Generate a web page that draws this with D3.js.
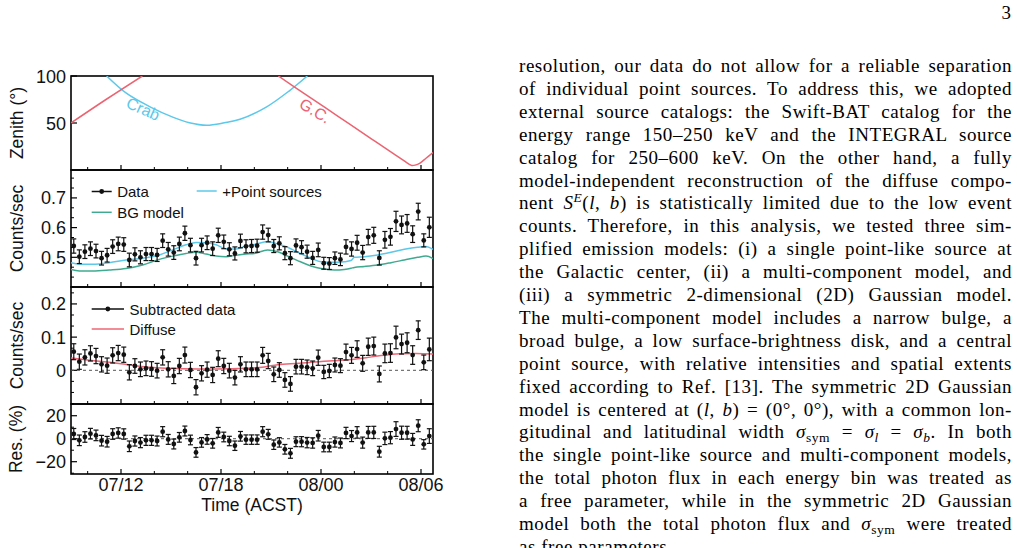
<!DOCTYPE html>
<html>
<head>
<meta charset="utf-8">
<script src="https://cdn.jsdelivr.net/npm/d3@7"></script>
<style>
  body { margin: 0; background: #fff; }
  svg text { font-family: "Liberation Sans", Arial, sans-serif; fill: #111; }
  svg text.body { font-family: "Liberation Serif", "Times New Roman", serif; fill: #000; }
</style>
</head>
<body>
<svg id="fig" width="1017" height="548"></svg>
<script>
// hours since 07/00 (ACST); 20-minute bins
var binStart = 9, binWidth = 1/3, nBins = 65;
var binTimes = d3.range(nBins).map(function(i){ return binStart + binWidth*(i + 0.5); });

var timeTicks = [12, 18, 24, 30];
var timeLabels = ["07/12", "07/18", "08/00", "08/06"];

// zenith angles (deg)
var crabTimes = [11.14, 12.34, 13.74, 15.14, 16.1, 17.14, 18.2, 19.14, 20.74, 22.14, 23.18];
var crabZen   = [100, 81.4, 67.2, 56, 50.3, 47.6, 50.2, 53.9, 67.2, 84.8, 100];
var gcTimes1 = [9, 11.1, 13.28];
var gcZen1   = [50, 75, 100];
var gcTimes2 = [21.44, 23, 25, 27, 28.5, 29.04, 29.3, 29.44, 29.65, 29.94, 30.3, 30.72];
var gcZen2   = [100, 81.3, 57.4, 33.5, 15.6, 9.1, 6.0, 4.8, 5.2, 7.4, 12.5, 18.6];

// count rate data (counts/sec)
var dataRate = [0.538,0.502,0.519,0.529,0.521,0.497,0.507,0.536,0.545,0.543,
                0.491,0.510,0.500,0.511,0.511,0.508,0.556,0.527,0.516,0.545,
                0.581,0.541,0.497,0.541,0.549,0.529,0.574,0.552,0.527,0.513,
                0.555,0.537,0.538,0.539,0.585,0.575,0.538,0.547,0.514,0.497,
                0.540,0.534,0.519,0.498,0.525,0.480,0.479,0.497,0.493,0.535,
                0.528,0.549,0.516,0.568,0.574,0.498,0.559,0.569,0.621,0.609,
                0.614,0.578,0.654,0.557,0.601];
var dataErr  = [0.024,0.023,0.023,0.023,0.023,0.023,0.023,0.023,0.023,0.023,
                0.023,0.022,0.022,0.022,0.022,0.022,0.023,0.023,0.023,0.023,
                0.024,0.023,0.023,0.023,0.023,0.023,0.024,0.023,0.022,0.022,
                0.023,0.022,0.022,0.022,0.024,0.023,0.022,0.022,0.022,0.022,
                0.022,0.022,0.022,0.022,0.023,0.020,0.020,0.021,0.021,0.024,
                0.024,0.025,0.024,0.026,0.027,0.024,0.028,0.028,0.034,0.030,
                0.030,0.028,0.028,0.022,0.034];

// background model and +point sources
var modelTimes = [9, 9.5, 10.3, 11.3, 12.3, 13.3, 14.3, 15.1, 15.9, 16.5, 17.1, 17.7, 18.3, 18.9, 19.5,
                  20.0, 20.8, 21.4, 22.0, 22.6, 23.4, 24.0, 24.8, 25.4, 25.8, 26.0, 26.6, 27.4, 28.2,
                  29.0, 29.8, 30.3, 30.72];
var bgModel = [0.459,0.454,0.454,0.457,0.462,0.474,0.493,0.504,0.513,0.517,0.511,0.504,0.502,0.507,0.511,
               0.513,0.525,0.519,0.504,0.489,0.471,0.462,0.457,0.459,0.463,0.466,0.469,0.474,0.482,
               0.491,0.500,0.504,0.496];
var psModel = [0.482,0.477,0.477,0.482,0.491,0.497,0.508,0.525,0.542,0.550,0.549,0.542,0.529,0.528,0.538,
               0.543,0.553,0.545,0.534,0.517,0.497,0.485,0.483,0.485,0.489,0.500,0.502,0.508,0.517,
               0.527,0.534,0.536,0.527];

// subtracted data and diffuse model
var subRate = [0.056,0.026,0.039,0.051,0.043,0.018,0.014,0.045,0.052,0.047,
               -0.006,0.013,0.003,0.006,0.004,-0.001,0.039,0.003,-0.017,0.013,
               0.046,0.001,-0.051,-0.009,0.002,-0.014,0.035,0.013,-0.001,-0.022,
               0.018,0.003,0.003,0.003,0.045,0.028,-0.012,0.001,-0.029,-0.041,
               0.011,0.011,0.009,0.006,0.038,-0.005,-0.002,0.016,0.014,0.055,
               0.045,0.064,0.021,0.071,0.073,-0.011,0.051,0.052,0.099,0.079,
               0.083,0.046,0.121,0.024,0.063];
var diffTimes = [9, 10.7, 11.3, 12.7, 13.7, 14.7, 16.7, 18.7, 19.4, 20.6, 21.4, 22.7, 23.4, 24.7, 25.4,
                 26.7, 27.4, 28.7, 29.7, 30.72];
var diffModel = [0.037,0.027,0.024,0.015,0.009,0.006,0.004,0.005,0.006,0.010,0.017,0.021,0.024,0.029,0.031,
                 0.038,0.043,0.050,0.051,0.049];

// residuals (%)
var resPct = [4.1,-1.4,1.5,4.4,2.9,-1.7,-2.6,4.1,5.0,4.1,
              -6.6,-2.0,-3.4,-1.4,-1.4,-2.0,6.1,-0.6,-4.6,1.2,
              6.7,-1.1,-11.9,-3.2,-0.6,-4.0,5.5,1.5,-2.0,-6.1,
              2.1,-0.8,-0.8,-0.8,6.1,3.8,-5.2,-3.2,-9.2,-12.7,
              -2.6,-2.6,-3.4,-3.7,2.6,-7.2,-7.2,-2.9,-3.7,5.0,
              2.3,5.5,-3.4,5.5,5.5,-11.3,0.3,0.9,8.4,5.2,
              5.2,-0.6,11.3,-4.9,2.3];
var resErr = [4.8,4.6,4.6,4.6,4.6,4.6,4.6,4.6,4.5,4.5,
              4.6,4.4,4.4,4.4,4.4,4.3,4.4,4.3,4.3,4.2,
              4.3,4.2,4.2,4.2,4.2,4.2,4.3,4.2,4.1,4.1,
              4.2,4.1,4.1,4.1,4.4,4.3,4.1,4.1,4.2,4.3,
              4.3,4.4,4.5,4.5,4.6,4.2,4.2,4.4,4.3,4.9,
              4.8,5.0,4.8,5.2,5.3,4.7,5.4,5.3,6.4,5.7,
              5.6,5.2,5.2,4.1,6.4];

var cCrab = "#5cc8ea", cGC = "#ec6371", cBG = "#3faa90", cPS = "#5cc8ea", cDiff = "#ee6675";

var svg = d3.select("#fig");
var x = d3.scaleLinear().domain([9, 30.72]).range([71, 433]);

var panels = [
  { y: d3.scaleLinear().domain([0, 100]).range([170, 76]), major: [50, 100], minor: [], fmt: d3.format("d"), title: "Zenith (°)" },
  { y: d3.scaleLinear().domain([0.4, 0.794]).range([287, 170]), major: [0.5, 0.6, 0.7], minorStep: 0.1/3, fmt: d3.format(".1f"), title: "Counts/sec" },
  { y: d3.scaleLinear().domain([-0.1015, 0.251]).range([404, 287]), major: [0, 0.1, 0.2], minorStep: 0.1/3, fmt: function(v){ return v === 0 ? "0" : d3.format(".1f")(v); }, title: "Counts/sec" },
  { y: d3.scaleLinear().domain([-30.7, 30.2]).range([474, 404]), major: [-20, 0, 20], minorStep: 10, fmt: function(v){ return v < 0 ? "\u2212" + (-v) : String(v); }, title: "Res. (%)" }
];

panels.forEach(function(p, k){
  var g = svg.append("g");
  var y0 = p.y.range()[0], y1 = p.y.range()[1];
  var minor = [];
  if (p.minorStep) {
    var d = p.y.domain();
    for (var v = Math.ceil(d[0]/p.minorStep - 1e-6)*p.minorStep; v <= d[1]; v += p.minorStep) {
      if (!p.major.some(function(m){ return Math.abs(m - v) < 1e-6; })) minor.push(v);
    }
  }
  // y ticks (inside)
  g.selectAll(".ymaj").data(p.major).enter().append("line")
    .attr("x1", x.range()[0]).attr("x2", x.range()[0] + 6)
    .attr("y1", function(v){ return p.y(v); }).attr("y2", function(v){ return p.y(v); })
    .attr("stroke", "#000").attr("stroke-width", 1.2);
  g.selectAll(".ymin").data(minor).enter().append("line")
    .attr("x1", x.range()[0]).attr("x2", x.range()[0] + 3)
    .attr("y1", function(v){ return p.y(v); }).attr("y2", function(v){ return p.y(v); })
    .attr("stroke", "#000").attr("stroke-width", 1);
  g.selectAll(".ylab").data(p.major).enter().append("text")
    .attr("x", 66).attr("y", function(v){ return p.y(v) + 6.5; })
    .attr("text-anchor", "end").attr("font-size", 18)
    .text(p.fmt);
  // x ticks on the bottom edge, pointing up
  var xmin = d3.range(10, 31, 2).filter(function(t){ return timeTicks.indexOf(t) < 0; });
  g.selectAll(".xmaj").data(timeTicks).enter().append("line")
    .attr("x1", x).attr("x2", x).attr("y1", y0).attr("y2", y0 - 5)
    .attr("stroke", "#000").attr("stroke-width", 1.2);
  g.selectAll(".xmin").data(xmin).enter().append("line")
    .attr("x1", x).attr("x2", x).attr("y1", y0).attr("y2", y0 - 3)
    .attr("stroke", "#000").attr("stroke-width", 1);
  // frame
  g.append("rect").attr("x", 71).attr("y", y1).attr("width", 362).attr("height", y0 - y1)
    .attr("fill", "none").attr("stroke", "#000").attr("stroke-width", 1.6);
  // axis title
  svg.append("text").attr("transform", "translate(" + (k === 3 ? 22 : 23) + "," + ((y0 + y1)/2) + ") rotate(-90)")
    .attr("text-anchor", "middle").attr("font-size", 17.5).text(p.title);
  p.clip = "clip" + k;
  svg.append("clipPath").attr("id", p.clip).append("rect")
    .attr("x", 71).attr("y", y1).attr("width", 362).attr("height", y0 - y1);
});

var line = function(xs, ys, sc, curve){
  return d3.line().curve(curve || d3.curveMonotoneX)
    .x(function(d, i){ return x(xs[i]); }).y(function(d){ return sc(d); })(ys);
};

// panel 1: zenith
var p1 = panels[0], g1 = svg.append("g").attr("clip-path", "url(#" + p1.clip + ")");
g1.append("path").attr("d", line(crabTimes, crabZen, p1.y, d3.curveCatmullRom)).attr("fill", "none").attr("stroke", cCrab).attr("stroke-width", 1.5);
g1.append("path").attr("d", line(gcTimes1, gcZen1, p1.y)).attr("fill", "none").attr("stroke", cGC).attr("stroke-width", 1.5);
g1.append("path").attr("d", line(gcTimes2, gcZen2, p1.y, d3.curveCatmullRom)).attr("fill", "none").attr("stroke", cGC).attr("stroke-width", 1.5);
svg.append("text").attr("transform", "translate(125,107) rotate(24)").attr("font-size", 16).style("fill", cCrab).text("Crab");
svg.append("text").attr("transform", "translate(298,107) rotate(31)").attr("font-size", 16).style("fill", cGC).text("G.C.");

function errPoints(g, ys, es, sc){
  var pts = g.selectAll(".pt").data(ys).enter().append("g");
  pts.append("line").attr("x1", function(d, i){ return x(binTimes[i]); }).attr("x2", function(d, i){ return x(binTimes[i]); })
    .attr("y1", function(d, i){ return sc(d - es[i]); }).attr("y2", function(d, i){ return sc(d + es[i]); })
    .attr("stroke", "#111").attr("stroke-width", 1.2);
  [-1, 1].forEach(function(s){
    pts.append("line").attr("x1", function(d, i){ return x(binTimes[i]) - 2.5; }).attr("x2", function(d, i){ return x(binTimes[i]) + 2.5; })
      .attr("y1", function(d, i){ return sc(d + s*es[i]); }).attr("y2", function(d, i){ return sc(d + s*es[i]); })
      .attr("stroke", "#111").attr("stroke-width", 1.2);
  });
  pts.append("circle").attr("cx", function(d, i){ return x(binTimes[i]); }).attr("cy", function(d){ return sc(d); })
    .attr("r", 2.4).attr("fill", "#111");
}

// panel 2: counts
var p2 = panels[1], g2 = svg.append("g").attr("clip-path", "url(#" + p2.clip + ")");
g2.append("path").attr("d", line(modelTimes, bgModel, p2.y)).attr("fill", "none").attr("stroke", cBG).attr("stroke-width", 1.5);
g2.append("path").attr("d", line(modelTimes, psModel, p2.y)).attr("fill", "none").attr("stroke", cPS).attr("stroke-width", 1.5);
errPoints(g2, dataRate, dataErr, p2.y);

// panel 3: subtracted
var p3 = panels[2], g3 = svg.append("g").attr("clip-path", "url(#" + p3.clip + ")");
g3.append("line").attr("x1", 71).attr("x2", 433).attr("y1", p3.y(0)).attr("y2", p3.y(0))
  .attr("stroke", "#555").attr("stroke-width", 1).attr("stroke-dasharray", "3,3");
g3.append("path").attr("d", line(diffTimes, diffModel, p3.y)).attr("fill", "none").attr("stroke", cDiff).attr("stroke-width", 1.5);
errPoints(g3, subRate, dataErr, p3.y);

// panel 4: residuals
var p4 = panels[3], g4 = svg.append("g").attr("clip-path", "url(#" + p4.clip + ")");
g4.append("line").attr("x1", 71).attr("x2", 433).attr("y1", p4.y(0)).attr("y2", p4.y(0))
  .attr("stroke", "#555").attr("stroke-width", 1).attr("stroke-dasharray", "3,3");
errPoints(g4, resPct, resErr, p4.y);

// legends
function legendItem(x0, x1, yy, color, dot, label){
  svg.append("line").attr("x1", x0).attr("x2", x1).attr("y1", yy).attr("y2", yy).attr("stroke", color).attr("stroke-width", 1.5);
  if (dot) svg.append("circle").attr("cx", (x0 + x1)/2).attr("cy", yy).attr("r", 2.4).attr("fill", color);
  svg.append("text").attr("x", x1 + 5.5).attr("y", yy + 5.5).attr("font-size", 15).text(label);
}
legendItem(91.7, 111.7, 191.5, "#111", true, "Data");
legendItem(91.7, 111.7, 212.3, cBG, false, "BG model");
legendItem(196.7, 216.7, 191, cPS, false, "+Point sources");
legendItem(91.7, 124, 309, "#111", true, "Subtracted data");
legendItem(91.7, 124, 329, cDiff, false, "Diffuse");

// time axis labels
svg.selectAll(".tlab").data(timeTicks).enter().append("text")
  .attr("x", x).attr("y", 491).attr("text-anchor", "middle").attr("font-size", 18)
  .text(function(d, i){ return timeLabels[i]; });
svg.append("text").attr("x", 252).attr("y", 511).attr("text-anchor", "middle").attr("font-size", 17.5).text("Time (ACST)");

// page text
svg.append("text").attr("class", "body").attr("x", 1011).attr("y", 19).attr("text-anchor", "end").attr("font-size", 19).text("3");

var textLines = [
  [["resolution, our data do not allow for a reliable separation"]],
  [["of individual point sources. To address this, we adopted"]],
  [["external source catalogs: the Swift-BAT catalog for the"]],
  [["energy range 150–250 keV and the INTEGRAL source"]],
  [["catalog for 250–600 keV. On the other hand, a fully"]],
  [["model-independent reconstruction of the diffuse compo-"]],
  [["nent "], ["S", "i"], ["E", "isup"], ["("], ["l", "i"], [", "], ["b", "i"], [") is statistically limited due to the low event"]],
  [["counts. Therefore, in this analysis, we tested three sim-"]],
  [["plified emission models: (i) a single point-like source at"]],
  [["the Galactic center, (ii) a multi-component model, and"]],
  [["(iii) a symmetric 2-dimensional (2D) Gaussian model."]],
  [["The multi-component model includes a narrow bulge, a"]],
  [["broad bulge, a low surface-brightness disk, and a central"]],
  [["point source, with relative intensities and spatial extents"]],
  [["fixed according to Ref. [13]. The symmetric 2D Gaussian"]],
  [["model is centered at ("], ["l", "i"], [", "], ["b", "i"], [") = (0°, 0°), with a common lon-"]],
  [["gitudinal and latitudinal width "], ["σ", "i"], ["sym", "sub"], [" = "], ["σ", "i"], ["l", "isub"], [" = "], ["σ", "i"], ["b", "isub"], [". In both"]],
  [["the single point-like source and multi-component models,"]],
  [["the total photon flux in each energy bin was treated as"]],
  [["a free parameter, while in the symmetric 2D Gaussian"]],
  [["model both the total photon flux and "], ["σ", "i"], ["sym", "sub"], [" were treated"]],
  [["as free parameters."]]
];
var textX = 519, textW = 493, lineY0 = 72, lineStep = 22.9;
textLines.forEach(function(parts, k){
  var t = svg.append("text").attr("class", "body").attr("x", textX).attr("y", lineY0 + k*lineStep)
    .attr("font-size", 19).attr("letter-spacing", 0.55);
  var shift = 0;
  parts.forEach(function(p){
    var s = t.append("tspan").text(p[0]);
    var st = p[1] || "";
    if (st.indexOf("i") === 0) s.attr("font-style", "italic");
    var want = st.indexOf("sup") >= 0 ? -7 : (st.indexOf("sub") >= 0 ? 4 : 0);
    if (want !== shift) { s.attr("dy", want - shift); shift = want; }
    if (want !== 0) s.attr("font-size", 13.5);
  });
  if (k < textLines.length - 1) {
    var L = t.node().getComputedTextLength();
    var n = (t.text().match(/ /g) || []).length;
    if (n > 0) t.attr("word-spacing", (textW - L)/n);
  }
});
</script>
</body>
</html>
